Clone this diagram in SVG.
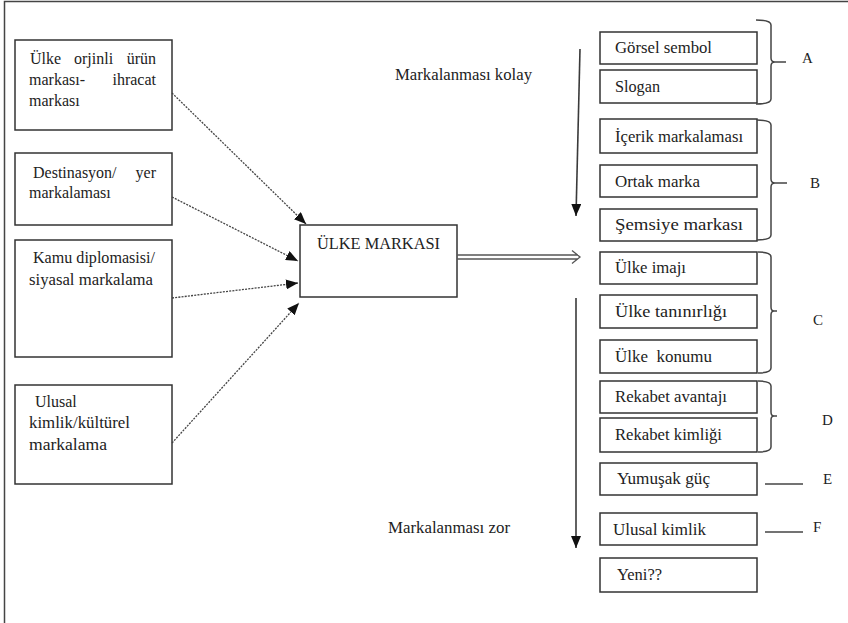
<svg xmlns="http://www.w3.org/2000/svg" width="848" height="623" viewBox="0 0 848 623">
  <style>
    .box { fill: #ffffff; stroke: #333333; stroke-width: 1.5; }
    text { font-family: 'Liberation Serif', 'Times New Roman', Tinos, 'DejaVu Serif', 'Noto Serif', serif; font-size: 16px; fill: #222222; }
    .letter { font-size: 15px; }
    .dot { fill: none; stroke: #444444; stroke-width: 1.3; stroke-dasharray: 2 1.2; }
    .solid { fill: none; stroke: #3a3a3a; stroke-width: 1.6; }
    .brace { fill: none; stroke: #444444; stroke-width: 1.5; }
  </style>
  <defs>
    <marker id="tri" viewBox="0 0 12 10" refX="12" refY="5" markerWidth="12" markerHeight="10" markerUnits="userSpaceOnUse" orient="auto">
      <path d="M0,0 L12,5 L0,10 z" fill="#111111"/>
    </marker>
  </defs>

  <rect width="848" height="623" fill="#ffffff"/>
  <!-- outer frame -->
  <rect x="4.5" y="1.5" width="900" height="700" fill="none" stroke="#444444" stroke-width="1.5"/>

  <!-- left column -->
  <g id="ulke-orjinli">
    <rect class="box" x="15" y="40" width="157" height="90"/>
    <text x="30" y="64">Ülke</text>
    <text x="74" y="64">orjinli</text>
    <text x="156" y="64" text-anchor="end">ürün</text>
    <text x="29" y="85">markası-</text>
    <text x="156" y="85" text-anchor="end">ihracat</text>
    <text x="29" y="106">markası</text>
  </g>
  <g id="destinasyon">
    <rect class="box" x="15" y="153" width="157" height="72"/>
    <text x="33" y="178">Destinasyon/</text>
    <text x="156" y="178" text-anchor="end">yer</text>
    <text x="29" y="198">markalaması</text>
  </g>
  <g id="kamu-diplomasisi">
    <rect class="box" x="15" y="240" width="157" height="117"/>
    <text x="33" y="263" textLength="122" lengthAdjust="spacingAndGlyphs">Kamu diplomasisi/</text>
    <text x="29" y="285" textLength="124" lengthAdjust="spacingAndGlyphs">siyasal markalama</text>
  </g>
  <g id="ulusal-kimlik-kulturel">
    <rect class="box" x="15" y="385" width="157" height="99"/>
    <text x="35" y="407">Ulusal</text>
    <text x="29" y="428" textLength="101" lengthAdjust="spacingAndGlyphs">kimlik/kültürel</text>
    <text x="29" y="450" textLength="78" lengthAdjust="spacingAndGlyphs">markalama</text>
  </g>

  <!-- centre -->
  <g id="ulke-markasi">
    <rect class="box" x="300" y="225" width="157" height="72"/>
    <text x="317" y="249" textLength="123" lengthAdjust="spacingAndGlyphs">ÜLKE MARKASI</text>
  </g>

  <!-- right column -->
  <g id="gorsel-sembol">
    <rect class="box" x="600" y="32" width="157" height="32"/>
    <text x="615" y="53" textLength="97" lengthAdjust="spacingAndGlyphs">Görsel sembol</text>
  </g>
  <g id="slogan">
    <rect class="box" x="600" y="70" width="157" height="33"/>
    <text x="615" y="92" textLength="45" lengthAdjust="spacingAndGlyphs">Slogan</text>
  </g>
  <g id="icerik">
    <rect class="box" x="600" y="119" width="157" height="34"/>
    <text x="615" y="142" textLength="128" lengthAdjust="spacingAndGlyphs">İçerik markalaması</text>
  </g>
  <g id="ortak-marka">
    <rect class="box" x="600" y="165" width="157" height="32"/>
    <text x="615" y="187" textLength="85" lengthAdjust="spacingAndGlyphs">Ortak marka</text>
  </g>
  <g id="semsiye">
    <rect class="box" x="600" y="209" width="157" height="32"/>
    <text x="615" y="230" textLength="128" lengthAdjust="spacingAndGlyphs">Şemsiye markası</text>
  </g>
  <g id="ulke-imaji">
    <rect class="box" x="600" y="252" width="157" height="32"/>
    <text x="615" y="273" textLength="71" lengthAdjust="spacingAndGlyphs">Ülke imajı</text>
  </g>
  <g id="ulke-taninirligi">
    <rect class="box" x="600" y="295" width="157" height="33"/>
    <text x="615" y="317" textLength="112" lengthAdjust="spacingAndGlyphs">Ülke tanınırlığı</text>
  </g>
  <g id="ulke-konumu">
    <rect class="box" x="600" y="340" width="157" height="33"/>
    <text x="615" y="362" textLength="97" lengthAdjust="spacingAndGlyphs" xml:space="preserve">Ülke  konumu</text>
  </g>
  <g id="rekabet-avantaji">
    <rect class="box" x="600" y="381" width="157" height="32"/>
    <text x="615" y="402" textLength="112" lengthAdjust="spacingAndGlyphs">Rekabet avantajı</text>
  </g>
  <g id="rekabet-kimligi">
    <rect class="box" x="600" y="418" width="157" height="34"/>
    <text x="615" y="440" textLength="107" lengthAdjust="spacingAndGlyphs">Rekabet kimliği</text>
  </g>
  <g id="yumusak-guc">
    <rect class="box" x="600" y="463" width="157" height="32"/>
    <text x="617" y="484" textLength="93" lengthAdjust="spacingAndGlyphs">Yumuşak güç</text>
  </g>
  <g id="ulusal-kimlik">
    <rect class="box" x="600" y="513" width="157" height="32"/>
    <text x="613" y="535" textLength="93" lengthAdjust="spacingAndGlyphs">Ulusal kimlik</text>
  </g>
  <g id="yeni">
    <rect class="box" x="600" y="558" width="157" height="34"/>
    <text x="617" y="580" textLength="45" lengthAdjust="spacingAndGlyphs">Yeni??</text>
  </g>

  <!-- scale labels -->
  <text x="395" y="80" textLength="137" lengthAdjust="spacingAndGlyphs">Markalanması kolay</text>
  <text x="388" y="533" textLength="122" lengthAdjust="spacingAndGlyphs">Markalanması zor</text>

  <!-- group braces and letters -->
  <g id="braces">
    <path class="brace" d="M756,20 Q771,20 771,25 V58 Q771,62 775,62 H786 M775,62 Q771,62 771,66 V99 Q771,104 756,104"/>
    <text class="letter" x="802" y="63">A</text>
    <path class="brace" d="M757,120 Q771,120 771,125 V179 Q771,183 775,183 H787 M775,183 Q771,183 771,187 V235 Q771,240 757,240"/>
    <text class="letter" x="810" y="188">B</text>
    <path class="brace" d="M758,252 Q771,252 771,257 V307 Q771,311 774,311 H777 M774,311 Q771,311 771,315 V368 Q771,373 758,373"/>
    <text class="letter" x="813" y="325">C</text>
    <path class="brace" d="M758,381 Q771,381 771,386 V412 Q771,416 774,416 H777 M774,416 Q771,416 771,420 V447 Q771,452 758,452"/>
    <text class="letter" x="822" y="425">D</text>
    <path class="brace" d="M765,484 H803"/>
    <text class="letter" x="823" y="484">E</text>
    <path class="brace" d="M765,532 H803"/>
    <text class="letter" x="813" y="532">F</text>
  </g>

  <!-- connectors -->
  <g id="connectors">
    <path class="dot" d="M172,93 L306,224" marker-end="url(#tri)"/>
    <path class="dot" d="M172,197 L298,261" marker-end="url(#tri)"/>
    <path class="dot" d="M172,298 L298,283" marker-end="url(#tri)"/>
    <path class="dot" d="M172,443 L299,303" marker-end="url(#tri)"/>
    <!-- double-line arrow from the centre box -->
    <path fill="none" stroke="#555555" stroke-width="1.3" d="M457,255 H578 M457,259 H578 M572,250.5 L580,257 L572,263.5"/>
    <!-- easy-to-hard scale arrows -->
    <path class="solid" d="M580,49 L576,216" marker-end="url(#tri)"/>
    <path class="solid" d="M576,298 L576,548" marker-end="url(#tri)"/>
  </g>
</svg>
